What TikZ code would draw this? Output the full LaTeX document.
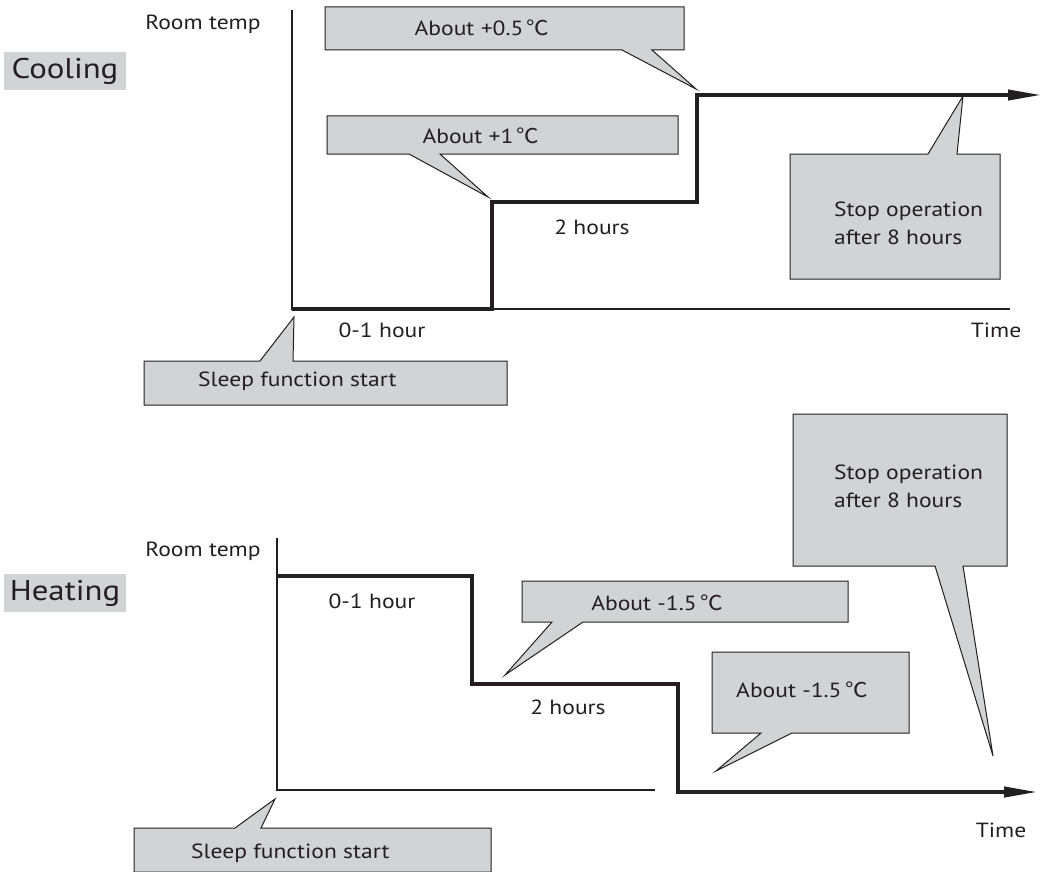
\documentclass[tikz,border=0pt]{standalone}
\usepackage{fontspec}
\setmainfont{PT Sans}[FakeStretch=1.15]
\newfontfamily\cjk{Noto Sans CJK SC}[FakeStretch=1.1]
\usetikzlibrary{arrows.meta}
\definecolor{callgray}{RGB}{209,211,212}
\definecolor{ink}{RGB}{35,31,32}
\newcommand\myC{\,{\cjk ℃}}
\begin{document}
\begin{tikzpicture}[x=1pt,y=-1pt,
  callout/.style={fill=callgray,draw=ink,line width=1pt,line join=miter},
  axis/.style={draw=ink,line width=1.2pt},
  curve/.style={draw=ink,line width=4pt,line join=miter,-{Triangle[length=34pt,width=10pt]}},
  txt/.style={inner sep=0pt,text=ink,font=\fontsize{20.5}{28}\selectfont},
  title/.style={fill=callgray,inner sep=0pt,minimum width=122pt,minimum height=38pt,text=ink,font=\fontsize{28.5}{30}\selectfont}
]
\useasboundingbox (0,0) rectangle (1046,872);
% ================= Cooling =================
\node[title] (cool) at (65,71) {Cooling};
\node[txt] (rt1) at (203,24) {Room temp};
\coordinate (o1) at (292,309);
\coordinate (y1) at (292,10);
\coordinate (x1) at (1010,309);
\draw[axis] (y1) -- (o1) -- (x1);
\draw[curve] (o1) -- (492,309) -- (492,202) -- (697,202) -- (697,95) -- (1042,95);
\node[txt] (h01c) at (382,330) {0-1 hour};
\node[txt] (h2c) at (592,227) {2 hours};
\node[txt] (timec) at (996,330) {Time};
% callout +0.5
\coordinate (c1tip) at (696,89);
\draw[callout] (325,7) -- (684,7) -- (684,50) -- (652,50) -- (c1tip) -- (622,50) -- (325,50) -- cycle;
\node[txt] (c1) at (482,28) {About +0.5\myC};
% callout +1
\coordinate (c2tip) at (488,197);
\draw[callout] (327,116) -- (678,116) -- (678,154) -- (440,154) -- (c2tip) -- (409,154) -- (327,154) -- cycle;
\node[txt] (c2) at (481,136) {About +1\myC};
% stop operation (cooling)
\coordinate (c3tip) at (963,96);
\draw[callout] (790,154) -- (928,154) -- (c3tip) -- (957,154) -- (1000,154) -- (1000,279) -- (790,279) -- cycle;
\node[txt,align=left,anchor=west] (c3) at (834,223) {Stop operation\\after 8 hours};
% sleep start (cooling)
\coordinate (c4tip) at (294,317);
\draw[callout] (144,361) -- (260,361) -- (c4tip) -- (293,361) -- (507,361) -- (507,405) -- (144,405) -- cycle;
\node[txt,anchor=west] (c4) at (198,381) {Sleep function start};
% ================= Heating =================
\node[title] (heat) at (65,593) {Heating};
\node[txt] (rt2) at (203,551) {Room temp};
\coordinate (o2) at (277,790);
\coordinate (y2) at (277,538);
\coordinate (x2) at (655,790);
\draw[axis] (y2) -- (o2) -- (x2);
\draw[curve] (277,576) -- (472,576) -- (472,684) -- (678,684) -- (678,792) -- (1038,792);
\node[txt] (h01h) at (372,601) {0-1 hour};
\node[txt] (h2h) at (568,707) {2 hours};
\node[txt] (timeh) at (1001,830) {Time};
% callout -1.5 (first)
\coordinate (h1tip) at (505,675);
\draw[callout] (522,581) -- (848,581) -- (848,622) -- (583,622) -- (h1tip) -- (552,622) -- (522,622) -- cycle;
\node[txt] (h1) at (657,603) {About -1.5\myC};
% callout -1.5 (second)
\coordinate (h2tip) at (716,771);
\draw[callout] (712,652) -- (909,652) -- (909,733) -- (792,733) -- (h2tip) -- (761,733) -- (712,733) -- cycle;
\node[txt,anchor=west] (h2) at (736,690) {About -1.5\myC};
% stop operation (heating)
\coordinate (h3tip) at (993,756);
\draw[callout] (793,414) -- (1007,414) -- (1007,566) -- (963,566) -- (h3tip) -- (935,566) -- (793,566) -- cycle;
\node[txt,align=left,anchor=west] (h3) at (834,486) {Stop operation\\after 8 hours};
% sleep start (heating)
\coordinate (h4tip) at (275,799);
\draw[callout] (134,828) -- (235,828) -- (h4tip) -- (261,828) -- (491,828) -- (491,872) -- (134,872) -- cycle;
\node[txt,anchor=west] (h4) at (191,853) {Sleep function start};
\end{tikzpicture}
\end{document}
